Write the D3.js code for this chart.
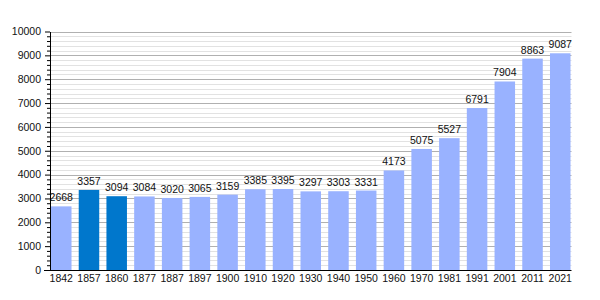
<!DOCTYPE html>
<html>
<head>
<meta charset="utf-8">
<script src="https://cdn.jsdelivr.net/npm/d3@7"></script>
<style>
  body { margin: 0; background: #fff; }
  text { font-family: "Liberation Sans", Arial, sans-serif; }
</style>
</head>
<body>
<div id="chart"></div>
<script>
// chart data
const YEARS = ["1842", "1857", "1860", "1877", "1887", "1897", "1900", "1910", "1920", "1930",
               "1940", "1950", "1960", "1970", "1981", "1991", "2001", "2011", "2021"];
const POPULATION = [2668, 3357, 3094, 3084, 3020, 3065, 3159, 3385, 3395, 3297,
                    3303, 3331, 4173, 5075, 5527, 6791, 7904, 8863, 9087];
const HIGHLIGHT = ["1857", "1860"];
const Y_TICKS = [0, 1000, 2000, 3000, 4000, 5000, 6000, 7000, 8000, 9000, 10000];

// frame
const FRAME_WIDTH = 600;
const FRAME_HEIGHT = 300;
const PLOT = {left: 50, right: 571.5, top: 31.5, bottom: 270};

const svg = d3.select("#chart")
              .append("svg")
                .attr("width", FRAME_WIDTH)
                .attr("height", FRAME_HEIGHT);

const x = d3.scaleBand()
            .domain(YEARS)
            .range([PLOT.left, PLOT.right])
            .paddingInner(0.26)
            .paddingOuter(0.036);

const y = d3.scaleLinear()
            .domain([0, 10000])
            .range([PLOT.bottom, PLOT.top]);

// minor gridlines every 200
const minor = d3.range(200, 10000, 200).filter(v => v % 1000 !== 0);
svg.append("g")
   .selectAll("line")
   .data(minor)
   .enter()
   .append("line")
     .attr("x1", PLOT.left).attr("x2", PLOT.right)
     .attr("y1", d => Math.round(y(d)) + 0.5).attr("y2", d => Math.round(y(d)) + 0.5)
     .attr("stroke", "#e2e2e2");

// major gridlines
svg.append("g")
   .selectAll("line")
   .data(Y_TICKS.slice(1))
   .enter()
   .append("line")
     .attr("x1", PLOT.left).attr("x2", PLOT.right)
     .attr("y1", d => Math.round(y(d)) + 0.5).attr("y2", d => Math.round(y(d)) + 0.5)
     .attr("stroke", "#b0b0b0");

// bars
svg.append("g")
   .selectAll("rect")
   .data(YEARS)
   .enter()
   .append("rect")
     .attr("x", d => x(d))
     .attr("width", x.bandwidth())
     .attr("y", (d, i) => y(POPULATION[i]))
     .attr("height", (d, i) => y(0) - y(POPULATION[i]))
     .attr("fill", d => HIGHLIGHT.includes(d) ? "#0077cc" : "#99b2ff");

// value labels
svg.append("g")
   .selectAll("text")
   .data(YEARS)
   .enter()
   .append("text")
     .attr("x", d => x(d) + x.bandwidth() / 2)
     .attr("y", (d, i) => y(POPULATION[i]) - 5)
     .attr("text-anchor", "middle")
     .attr("font-size", 10.5)
     .attr("fill", "#111")
     .text((d, i) => POPULATION[i]);

// y axis: minor ticks then major ticks with labels
svg.append("g")
   .attr("transform", "translate(" + PLOT.left + ",0)")
   .call(d3.axisLeft(y).tickValues(minor).tickSize(3).tickFormat(""))
   .call(g => g.select(".domain").remove());

svg.append("g")
   .attr("transform", "translate(" + PLOT.left + ",0)")
   .call(d3.axisLeft(y).tickValues(Y_TICKS).tickSize(5).tickSizeOuter(0).tickPadding(4).tickFormat(d3.format("d")))
   .call(g => g.selectAll("text").attr("font-size", 10.5).attr("fill", "#111"));

// x axis
svg.append("g")
   .attr("transform", "translate(0," + PLOT.bottom + ")")
   .call(d3.axisBottom(x).tickSize(0).tickPadding(5))
   .call(g => g.select(".domain").attr("d", "M" + (PLOT.left - 6) + ",0.5H" + PLOT.right))
   .call(g => g.selectAll("text").attr("font-size", 10.5).attr("fill", "#111"));
</script>
</body>
</html>
